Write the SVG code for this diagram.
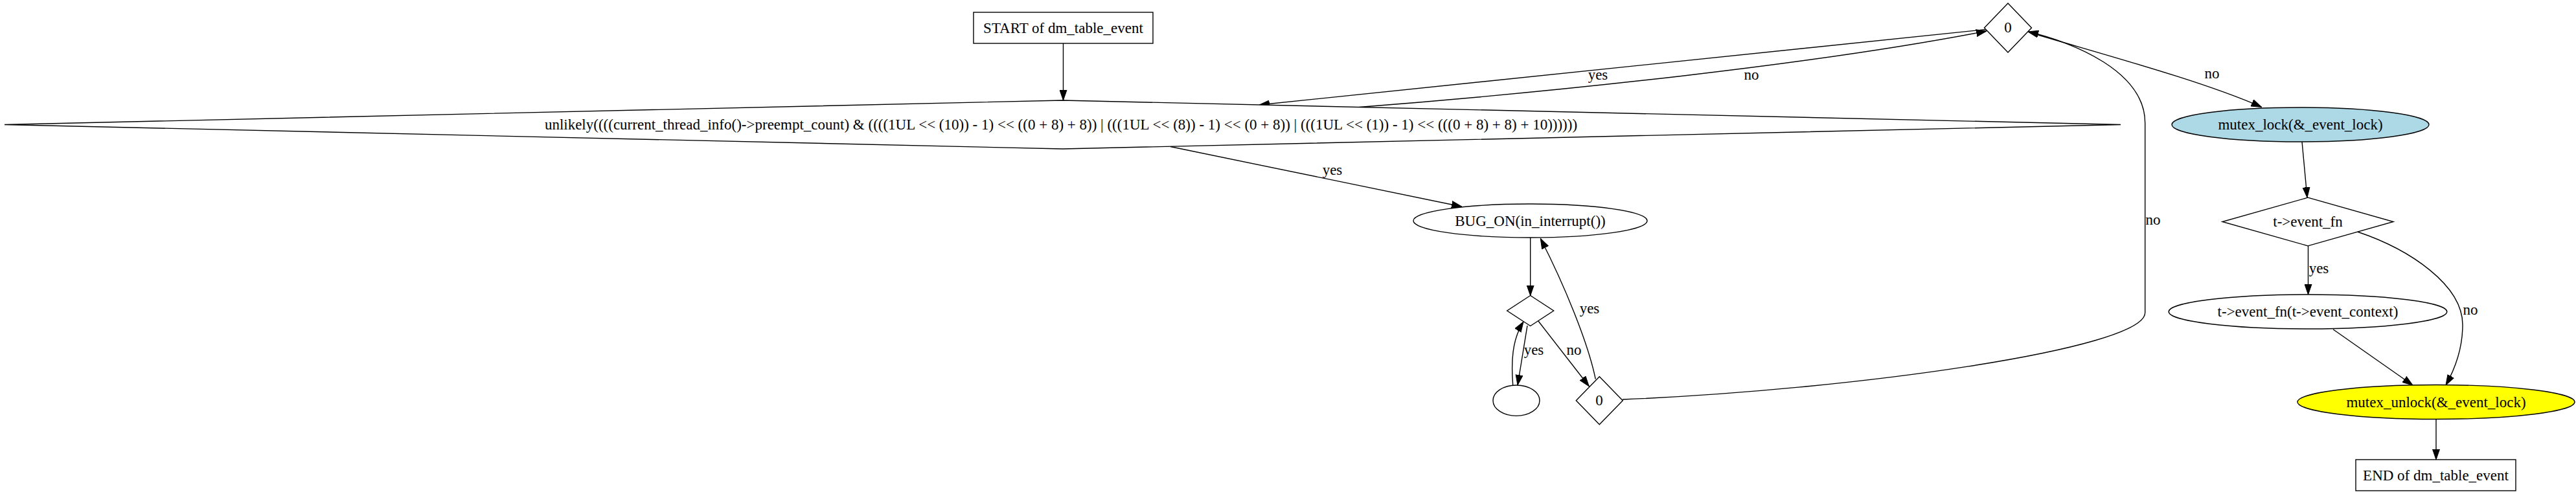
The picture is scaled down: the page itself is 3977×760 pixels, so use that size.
<svg xmlns="http://www.w3.org/2000/svg" width="3977" height="760" viewBox="0 0 3977 760">
<defs>
<style>
.n{fill:#ffffff;stroke:#000000;stroke-width:1.4}
.e{fill:none;stroke:#000000;stroke-width:1.4}
text{font-family:"Liberation Serif","Times New Roman",serif;font-size:23px;fill:#000000;text-anchor:middle}
</style>
<marker id="ah" markerUnits="userSpaceOnUse" markerWidth="16" markerHeight="12" viewBox="0 0 16 12" refX="16" refY="6" orient="auto">
<path d="M0,0.5 L16,6 L0,11.5 z" fill="#000000" stroke="#000000" stroke-width="1"/>
</marker>
</defs>
<rect width="3977" height="760" fill="#ffffff"/>

<g id="connectors">
<path class="e" d="M1641.5,67 L1641.5,155" marker-end="url(#ah)"/>
<path class="e" d="M1807,226.5 L2257,319.3" marker-end="url(#ah)"/>
<text x="2057" y="270">yes</text>
<path class="e" d="M3066,45.5 L1944,162" marker-end="url(#ah)"/>
<text x="2467" y="123">yes</text>
<path class="e" d="M2098.5,165.5 C2400,142 2800,100 3067,48" marker-end="url(#ah)"/>
<text x="2704" y="123">no</text>
<path class="e" d="M3133,50 C3250,85 3400,125 3491.6,165.4" marker-end="url(#ah)"/>
<text x="3415" y="121">no</text>
<path class="e" d="M3554,219 L3562,305.2" marker-end="url(#ah)"/>
<path class="e" d="M3563.5,379.8 L3563.5,455" marker-end="url(#ah)"/>
<text x="3580" y="422">yes</text>
<path class="e" d="M3639.5,358 C3720,385 3802,440 3802,501.7 C3802,540 3790,570 3776,595" marker-end="url(#ah)"/>
<text x="3814" y="486">no</text>
<path class="e" d="M3602,508.7 L3725,595" marker-end="url(#ah)"/>
<path class="e" d="M3761,647.5 L3761,710" marker-end="url(#ah)"/>
<path class="e" d="M2362.7,367 L2362.7,456.7" marker-end="url(#ah)"/>
<path class="e" d="M2358,503 L2343,595" marker-end="url(#ah)"/>
<text x="2368" y="548">yes</text>
<path class="e" d="M2335.7,595 C2333,560 2334,525 2352,497" marker-end="url(#ah)"/>
<path class="e" d="M2375,496 L2453.3,596.7" marker-end="url(#ah)"/>
<text x="2430" y="548">no</text>
<path class="e" d="M2463.3,585.7 C2452,530 2415,440 2378.3,368.3" marker-end="url(#ah)"/>
<text x="2454" y="484">yes</text>
<path class="e" d="M2505,617 C2850,603 3311.7,540 3311.7,483 L3311.7,190 C3311.7,110 3200,65 3131,49" marker-end="url(#ah)"/>
<text x="3324" y="347">no</text>
</g>

<g id="start">
<rect class="n" x="1503" y="19" width="277" height="48"/>
<text x="1641.5" y="51">START of dm_table_event</text>
</g>

<g id="cond_preempt">
<polygon class="n" points="1640.5,155 3274,192.5 1640.5,230 7,192.5"/>
<text x="1638" y="200">unlikely((((current_thread_info()-&gt;preempt_count) &amp; ((((1UL &lt;&lt; (10)) - 1) &lt;&lt; ((0 + 8) + 8)) | (((1UL &lt;&lt; (8)) - 1) &lt;&lt; (0 + 8)) | (((1UL &lt;&lt; (1)) - 1) &lt;&lt; (((0 + 8) + 8) + 10))))))</text>
</g>

<g id="zero_top">
<polygon class="n" points="3100,5 3136.5,43 3100,81 3063.5,43"/>
<text x="3100" y="50">0</text>
</g>

<g id="mutex_lock">
<ellipse cx="3551.5" cy="192.5" rx="198.5" ry="26.5" fill="#add8e6" stroke="#000000" stroke-width="1.4"/>
<text x="3551.5" y="200">mutex_lock(&amp;_event_lock)</text>
</g>

<g id="event_fn_cond">
<polygon class="n" points="3563,305.2 3695,342.5 3563,379.8 3431,342.5"/>
<text x="3563" y="350">t-&gt;event_fn</text>
</g>

<g id="event_fn_call">
<ellipse class="n" cx="3563" cy="481.5" rx="214.8" ry="26.5"/>
<text x="3563" y="489">t-&gt;event_fn(t-&gt;event_context)</text>
</g>

<g id="mutex_unlock">
<ellipse cx="3761" cy="621" rx="214" ry="26.5" fill="#ffff00" stroke="#000000" stroke-width="1.4"/>
<text x="3761" y="628.5">mutex_unlock(&amp;_event_lock)</text>
</g>

<g id="end">
<rect class="n" x="3637" y="710" width="247" height="48"/>
<text x="3760.5" y="742">END of dm_table_event</text>
</g>

<g id="bug_on">
<ellipse class="n" cx="2362.5" cy="341" rx="180.5" ry="26"/>
<text x="2362.5" y="348.5">BUG_ON(in_interrupt())</text>
</g>

<g id="empty_cond">
<polygon class="n" points="2362.7,456.5 2398.7,480 2362.7,503.5 2326.7,480"/>
</g>

<g id="empty_node">
<ellipse class="n" cx="2341" cy="618.7" rx="36" ry="23.7"/>
</g>

<g id="zero_low">
<polygon class="n" points="2469.3,581.7 2505.3,618.7 2469.3,655.7 2433.3,618.7"/>
<text x="2469" y="626">0</text>
</g>
</svg>
